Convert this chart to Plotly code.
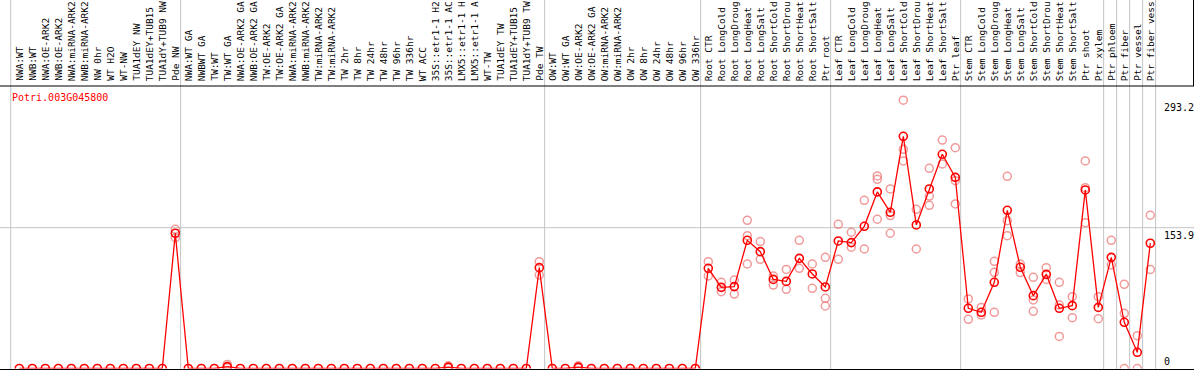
import plotly.graph_objects as go

gene = "Potri.003G045800"

labels = [
    "NWA:WT", "NWB:WT", "NWA:OE-ARK2", "NWB:OE-ARK2", "NWA:miRNA-ARK2", "NWB:miRNA-ARK2",
    "NW 0hr", "WT H2O", "WT-NW", "TUA1dEY NW", "TUA1dEY+TUB15", "TUA1dY+TUB9 NW", "Pde NW",
    "NWA:WT GA", "NWBWT GA", "TW:WT", "TW:WT GA", "NWA:OE-ARK2 GA", "NWB:OE-ARK2 GA",
    "TW:OE-ARK2", "TW:OE-ARK2 GA", "NWA:miRNA-ARK2", "NWB:miRNA-ARK2", "TW:miRNA-ARK2",
    "TW:miRNA-ARK2", "TW 2hr", "TW 8hr", "TW 24hr", "TW 48hr", "TW 96hr", "TW 336hr",
    "WT ACC", "35S::etr1-1 H2", "35S::etr1-1 AC", "LMX5::etr1-1 H", "LMX5::etr1-1 A",
    "WT-TW", "TUA1dEY TW", "TUA1dEY+TUB15", "TUA1dY+TUB9 TW", "Pde TW",
    "OW:WT", "OW:WT GA", "OW:OE-ARK2", "OW:OE-ARK2 GA", "OW:miRNA-ARK2", "OW:miRNA-ARK2",
    "OW 2hr", "OW 8hr", "OW 24hr", "OW 48hr", "OW 96hr", "OW 336hr",
    "Root CTR", "Root LongCold", "Root LongDroug", "Root LongHeat", "Root LongSalt",
    "Root ShortCold", "Root ShortDrou", "Root ShortHeat", "Root ShortSalt", "Ptr root",
    "Leaf CTR", "Leaf LongCold", "Leaf LongDroug", "Leaf LongHeat", "Leaf LongSalt",
    "Leaf ShortCold", "Leaf ShortDrou", "Leaf ShortHeat", "Leaf ShortSalt", "Ptr leaf",
    "Stem CTR", "Stem LongCold", "Stem LongDroug", "Stem LongHeat", "Stem LongSalt",
    "Stem ShortCold", "Stem ShortDrou", "Stem ShortHeat", "Stem ShortSalt", "Ptr shoot",
    "Ptr xylem", "Ptr phloem", "Ptr fiber", "Ptr vessel", "Ptr fiber vess",
]

means = (
    [0] * 12 + [147.8]
    + [0, 0, 0, 2.0] + [0] * 16 + [1.5] + [0] * 6 + [110.2]
    + [0, 0, 1.5] + [0] * 9
    + [109.5, 88.7, 89.5, 140.1, 127.7, 97.4, 95.2, 120.4, 103.3, 89.1]
    + [139.4, 137.6, 155.4, 193.0, 170.7, 253.8, 156.9, 196.2, 234.1, 208.9]
    + [65.8, 61.4, 94.2, 172.9, 110.6, 79.6, 102.9, 65.8, 68.7, 195.1]
    + [66.8, 121.5, 50.5, 17.7, 136.9]
)

N = None
rep_a = (
    [N] * 12 + [152.2]
    + [N, N, N, 4.5] + [N] * 16 + [3.0] + [N] * 6 + [116.7]
    + [N, N, 3.0] + [N] * 9
    + [116.7, 94.2, 96.7, 162.0, 138.7, 101.1, 108.3, 140.1, 114.2, 121.5]
    + [157.6, 148.9, 183.8, 210.4, 196.2, 293.2, 174.0, 218.8, 249.7, 241.3]
    + [76.0, 66.8, 117.1, 210.0, 114.2, 99.6, 110.2, 94.2, 78.5, 226.8]
    + [78.5, 140.1, 92.0, 35.9, 167.5]
)
rep_b = (
    [N] * 12 + [143.0]
    + [N, N, N, 0.8] + [N] * 16 + [0.5] + [N] * 6 + [102.2]
    + [N, N, 0.5] + [N] * 9
    + [101.1, 84.0, 81.4, 145.2, 119.3, 91.2, 86.5, 109.5, 87.6, 76.7]
    + [119.3, 132.5, 130.6, 206.8, 167.1, 239.5, 130.6, 188.5, 223.6, 205.3]
    + [53.8, 58.5, 105.1, 161.6, 104.8, 74.9, 97.4, 69.4, 55.6, 197.6]
    + [54.4, 113.1, 60.3, 0.0, 108.3]
)
rep_c = (
    [N] * 53
    + [N, N, N, 114.2, N, N, N, N, N, 68.3]
    + [N, N, N, 163.1, 147.8, 226.8, N, 178.3, N, 179.8]
    + [N, N, 61.4, 145.2, N, 62.5, N, 35.1, N, 159.3]
    + [N, N, 0.0, N, N]
)

# group boundaries (after these category numbers)
group_ends = [13, 41, 53, 63, 73, 84, 85, 86, 87, 88]
right_ticks = [293.2, 153.9, 0]

W, H = 1194, 370
Y0_PX, TOP_PX = 368.5, 86.0
K = 0.915  # px per unit
x = list(range(1, len(labels) + 1))

def px_to_paper(py):
    return (H - py) / H

fig = go.Figure()
for reps in (rep_a, rep_b, rep_c):
    fig.add_trace(go.Scatter(
        x=x, y=reps, mode="markers", showlegend=False, hoverinfo="skip",
        marker=dict(symbol="circle-open", size=8, color="rgba(236,120,120,0.75)",
                    line=dict(width=1.5, color="rgba(236,120,120,0.75)")),
    ))
fig.add_trace(go.Scatter(
    x=x, y=means, mode="lines+markers", showlegend=False,
    line=dict(color="#ff0000", width=1.3),
    marker=dict(symbol="circle-open", size=8, color="#ff0000",
                line=dict(width=1.6, color="#ff0000")),
))

shapes = []
# vertical group separators
for xv in [0.34] + [g + 0.41 for g in group_ends]:
    shapes.append(dict(type="line", xref="x", yref="paper", x0=xv, x1=xv, y0=0, y1=1,
                       line=dict(color="#c4c4c4", width=1), layer="below"))
# horizontal gridline
shapes.append(dict(type="line", xref="paper", yref="y", x0=0, x1=1, y0=153.9, y1=153.9,
                   line=dict(color="#c4c4c4", width=1), layer="below"))
# header separator
shapes.append(dict(type="line", xref="paper", yref="paper", x0=0, x1=1,
                   y0=px_to_paper(TOP_PX), y1=px_to_paper(TOP_PX),
                   line=dict(color="black", width=1.2)))
shapes.append(dict(type="line", xref="paper", yref="paper", x0=1193.5 / W, x1=1193.5 / W,
                   y0=px_to_paper(TOP_PX), y1=1, line=dict(color="black", width=1)))

annotations = []
for xi, lab in zip(x, labels):
    annotations.append(dict(x=xi, y=px_to_paper(83), xref="x", yref="paper", text=lab,
                            textangle=-90, showarrow=False, xanchor="center", yanchor="bottom",
                            font=dict(family="DejaVu Sans Mono", size=9.5, color="black")))
annotations.append(dict(x=10 / W, y=px_to_paper(90), xref="paper", yref="paper", text=gene,
                        showarrow=False, xanchor="left", yanchor="top",
                        font=dict(family="DejaVu Sans Mono", size=10, color="#ff0000")))
for v in right_ticks:
    annotations.append(dict(x=1162 / W, y=v, xref="paper", yref="y", text=str(v),
                            showarrow=False, xanchor="left",
                            yanchor="bottom" if v == 0 else "top",
                            font=dict(family="DejaVu Sans Mono", size=10, color="black")))

fig.update_layout(
    width=W, height=H, autosize=False,
    margin=dict(l=0, r=0, t=0, b=0),
    paper_bgcolor="white", plot_bgcolor="white",
    shapes=shapes, annotations=annotations,
    xaxis=dict(range=[-6.3 / 13, (W - 6.3) / 13], showgrid=False, zeroline=False,
               showticklabels=False, ticks="", showline=True, linecolor="black",
               linewidth=2, mirror=False),
    yaxis=dict(domain=[px_to_paper(Y0_PX), px_to_paper(TOP_PX)],
               range=[0, (Y0_PX - TOP_PX) / K], showgrid=False, zeroline=False,
               showticklabels=False, ticks="", showline=True, linecolor="black",
               linewidth=2),
)

fig.write_html(
    "out.html",
    config={"displayModeBar": False},
    post_script="document.body.style.margin='0';document.body.style.overflow='hidden';",
)
